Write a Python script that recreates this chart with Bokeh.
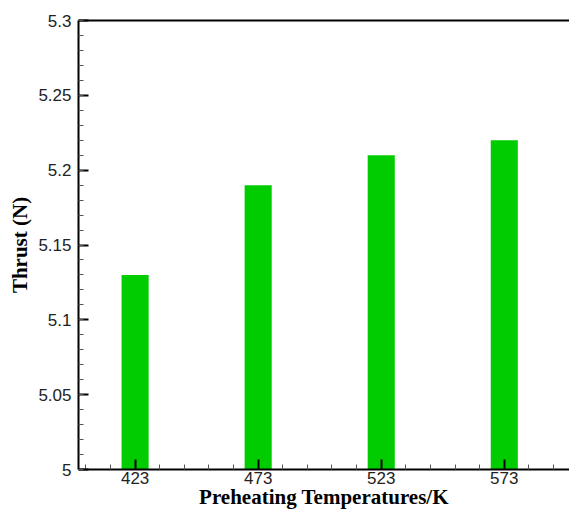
from bokeh.plotting import figure
from bokeh.models import FixedTicker, LinearAxis, Range1d
from bokeh.embed import file_html
from bokeh.resources import INLINE

# Data
temperatures = [423, 473, 523, 573]
thrust = [5.13, 5.19, 5.21, 5.22]
y_ticks = [5.0, 5.05, 5.1, 5.15, 5.2, 5.25, 5.3]
y_tick_labels = ["5", "5.05", "5.1", "5.15", "5.2", "5.25", "5.3"]
x_title = "Preheating Temperatures/K"
y_title = "Thrust (N)"

x_minor = [t + d for t in temperatures for d in (-20, -10, 10, 20)]
y_minor = [round(5.0 + i * 0.01, 2) for i in range(31)]

p = figure(width=569, height=515, output_backend="svg", toolbar_location=None,
           x_range=Range1d(400, 599.5), y_range=Range1d(5.0, 5.3),
           min_border_left=78, min_border_right=0, min_border_top=20,
           min_border_bottom=46)
p.outline_line_color = None
p.grid.visible = False
p.background_fill_color = "white"
p.border_fill_color = "white"

p.vbar(x=temperatures, top=thrust, bottom=5.0, width=11,
       fill_color="#00cc00", line_color=None)

for ax in (p.xaxis[0], p.yaxis[0]):
    ax.axis_line_width = 2
    ax.axis_line_color = "black"
    ax.major_tick_in = 10
    ax.major_tick_out = 0
    ax.minor_tick_in = 5
    ax.minor_tick_out = 0
    ax.major_tick_line_width = 2
    ax.minor_tick_line_width = 1
    ax.minor_tick_line_color = "#555555"
    ax.major_label_text_font = "Liberation Sans"
    ax.major_label_text_font_size = "17px"
    ax.major_label_text_color = "#222222"
    ax.axis_label_text_font = "Liberation Serif"
    ax.axis_label_text_font_style = "bold"
    ax.axis_label_text_font_size = "21px"
    ax.axis_label_text_color = "black"

p.xaxis[0].ticker = FixedTicker(ticks=temperatures, minor_ticks=x_minor)
p.yaxis[0].ticker = FixedTicker(ticks=y_ticks, minor_ticks=y_minor)
p.yaxis[0].major_label_overrides = {t: l for t, l in zip(y_ticks, y_tick_labels)}
p.xaxis[0].axis_label = x_title
p.yaxis[0].axis_label = y_title
p.xaxis[0].major_label_standoff = 2
p.xaxis[0].axis_label_standoff = -2
p.yaxis[0].major_label_standoff = 7
p.yaxis[0].axis_label_standoff = 3

top_axis = LinearAxis(ticker=FixedTicker(ticks=[]), axis_line_width=2,
                      axis_line_color="black", major_tick_line_color=None,
                      minor_tick_line_color=None, major_label_text_font_size="0px")
p.add_layout(top_axis, "above")

open("out.html", "w").write(file_html(p, INLINE))
